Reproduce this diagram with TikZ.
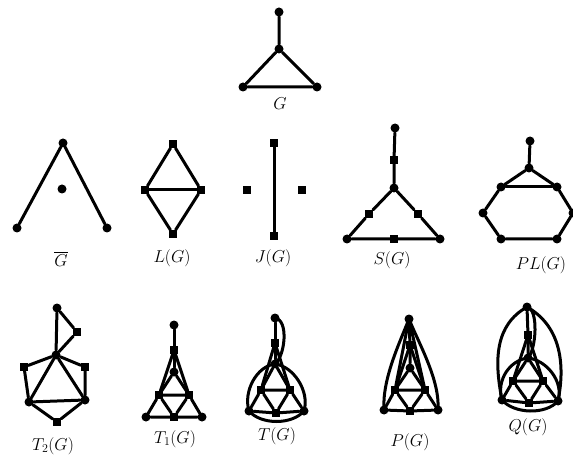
\documentclass[tikz,border=0pt]{standalone}
\usepackage{amsmath}
\usetikzlibrary{positioning}

\begin{document}
\begin{tikzpicture}[
  x=1bp, y=-1bp,
  % -- dot = vertex, square = edge of G --
  vt/.style={circle, fill=black, inner sep=0pt, minimum size=9bp},
  sq/.style={rectangle, fill=black, inner sep=0pt, minimum size=8bp},
  ln/.style={line width=3bp, line cap=round, line join=round},
  lb/.style={font=\fontsize{17}{20}\selectfont},
]
\useasboundingbox (0,0) rectangle (573,456);

% -- G ------------------------------------------------------
\node[vt] (gt) at (279,12) {};
\node[vt] (gc) at (279,49) {};
\node[vt] (gl) at (243,87) {};
\node[vt] (gr) at (317,87) {};
\draw[ln] (gt) -- (gc) -- (gl) -- (gr) -- (gc);
\node[lb] (gn) at (280,104) {$G$};

% -- complement -----------------------------------------------
\node[vt] (ct) at (63,143) {};
\node[vt] (cm) at (62,189) {};
\node[vt] (cl) at (17,228) {};
\node[vt] (cr) at (107,228) {};
\draw[ln] (cl) -- (ct) -- (cr);
\node[lb] (cn) at (61,259) {$\overline{G}$};

% -- L(G) -----------------------------------------------------
\node[sq] (lt) at (173,144) {};
\node[sq] (ll) at (145,190) {};
\node[sq] (lr) at (201,190) {};
\node[sq] (lo) at (173,234) {};
\draw[ln] (lt) -- (ll) -- (lo) -- (lr) -- (lt);
\draw[ln] (ll) -- (lr);
\node[lb] (ln) at (172,258) {$L(G)$};

% -- J(G) -----------------------------------------------------
\node[sq] (jt) at (274,143) {};
\node[sq] (jb) at (274,236) {};
\node[sq] (jl) at (247,190) {};
\node[sq] (jr) at (302,190) {};
\draw[ln] (jt) -- (jb);
\node[lb] (jn) at (273,258) {$J(G)$};

% -- S(G) -----------------------------------------------------
\node[vt] (st) at (395,128) {};
\node[sq] (ss) at (394,160) {};
\node[vt] (sc) at (394,188) {};
\node[sq] (sl) at (369,214) {};
\node[sq] (sr) at (418,214) {};
\node[vt] (sbl) at (347,239) {};
\node[vt] (sbr) at (440,239) {};
\node[sq] (sb) at (394,239) {};
\draw[ln] (st) -- (ss) -- (sc) -- (sl) -- (sbl) -- (sb) -- (sbr) -- (sr) -- (sc);
\node[lb] (sn) at (392,260) {$S(G)$};

% -- PL(G) ----------------------------------------------------
\node[vt] (pt) at (530,141) {};
\node[vt] (pc) at (529,168) {};
\node[vt] (pul) at (501,187) {};
\node[vt] (pur) at (557,187) {};
\node[vt] (pfl) at (483,213) {};
\node[vt] (pfr) at (573,213) {};
\node[vt] (pbl) at (501,239) {};
\node[vt] (pbr) at (557,239) {};
\draw[ln] (pt) -- (pc) -- (pul) -- (pfl) -- (pbl) -- (pbr) -- (pfr) -- (pur) -- (pc);
\draw[ln] (pul) -- (pur);
\node[lb] (pn) at (541,265) {$PL(G)$};

% -- T2(G) ----------------------------------------------------
\node[vt] (at) at (57,308) {};
\node[sq] (as) at (77,332) {};
\node[vt] (ac) at (56,355) {};
\node[sq] (al) at (24,367) {};
\node[sq] (ar) at (85,367) {};
\node[vt] (abl) at (29,402) {};
\node[vt] (abr) at (85,400) {};
\node[sq] (ab) at (57,422) {};
\draw[ln] (at) -- (ac) -- (as) -- (at);
\draw[ln] (ac) -- (al) -- (abl) -- (ab) -- (abr) -- (ar) -- (ac);
\draw[ln] (abl) -- (ac) -- (abr) -- (abl);
\node[lb] (an) at (53,446) {$T_2(G)$};

% -- T1(G) ----------------------------------------------------
\node[vt] (bt) at (174,325) {};
\node[sq] (bs) at (174,350) {};
\node[vt] (bc) at (174,372) {};
\node[sq] (bl) at (159,395) {};
\node[sq] (br) at (189,395) {};
\node[vt] (bbl) at (146,417) {};
\node[vt] (bbr) at (202,417) {};
\node[sq] (bb) at (174,417) {};
\draw[ln] (bt) -- (bs) -- (bc);
\draw[ln] (bl) -- (bs) -- (br);
\draw[ln] (bl) -- (bc) -- (br) -- (bl);
\draw[ln] (bbl) -- (bl) -- (bb) -- (br) -- (bbr) -- (bb) -- (bbl);
\node[lb] (bn) at (175,439) {$T_1(G)$};

% -- T(G) -----------------------------------------------------
\node[vt] (tt) at (275,318) {};
\node[sq] (ts) at (275,343) {};
\node[vt] (tc) at (275,364) {};
\node[sq] (tl) at (261,390) {};
\node[sq] (tr) at (290,390) {};
\node[vt] (tbl) at (249,411) {};
\node[vt] (tbr) at (304,411) {};
\node[sq] (tb) at (276,413) {};
\draw[ln] (tt) -- (ts) -- (tc);
\draw[ln] (tl) -- (ts) -- (tr);
\draw[ln] (tl) -- (tc) -- (tr) -- (tl);
\draw[ln] (tbl) -- (tl) -- (tb) -- (tr) -- (tbr) -- (tb) -- (tbl);
\draw[ln] (tt.center) .. controls +(14,2) and +(10,-8) .. (tc.center);
\draw[ln] (tc.center) .. controls +(-18,2) and +(-6,-20) .. (tbl.center);
\draw[ln] (tc.center) .. controls +(18,2) and +(6,-20) .. (tbr.center);
\draw[ln] (tbl.center) .. controls +(12,14) and +(-12,14) .. (tbr.center);
\node[lb] (tn) at (277,436) {$T(G)$};

% -- P(G) -----------------------------------------------------
\node[vt] (qt) at (409,319) {};
\node[sq] (qs) at (410,345) {};
\node[vt] (qc) at (410,368) {};
\node[sq] (ql) at (395,390) {};
\node[sq] (qr) at (425,390) {};
\node[vt] (qbl) at (384,410) {};
\node[vt] (qbr) at (438,410) {};
\node[sq] (qb) at (410,411) {};
\draw[ln] (qt) -- (qs) -- (qc);
\draw[ln] (ql) -- (qs) -- (qr);
\draw[ln] (ql) -- (qt) -- (qr);
\draw[ln] (ql) -- (qc) -- (qr) -- (ql);
\draw[ln] (qbl) -- (ql) -- (qb) -- (qr) -- (qbr) -- (qb) -- (qbl);
\draw[ln] (qt.center) .. controls +(-10,25) and +(-2,-30) .. (qbl.center);
\draw[ln] (qt.center) .. controls +(10,25) and +(2,-30) .. (qbr.center);
\node[lb] (qn) at (410,442) {$P(G)$};

% -- Q(G) -----------------------------------------------------
\node[vt] (rt) at (527,307) {};
\node[sq] (rs) at (528,335) {};
\node[vt] (rc) at (528,358) {};
\node[sq] (rl) at (513,381) {};
\node[sq] (rr) at (543,381) {};
\node[vt] (rbl) at (502,400) {};
\node[vt] (rbr) at (558,401) {};
\node[sq] (rb) at (529,403) {};
\draw[ln] (rt) -- (rs) -- (rc);
\draw[ln] (rl) -- (rs) -- (rr);
\draw[ln] (rl) -- (rc) -- (rr) -- (rl);
\draw[ln] (rbl) -- (rl) -- (rb) -- (rr) -- (rbr) -- (rb) -- (rbl);
\draw[ln] (rt.center) .. controls +(12,2) and +(8,-8) .. (rc.center);
\draw[ln] (rc.center) .. controls +(-18,2) and +(-6,-20) .. (rbl.center);
\draw[ln] (rc.center) .. controls +(18,2) and +(6,-20) .. (rbr.center);
\draw[ln] (rbl.center) .. controls +(12,14) and +(-12,14) .. (rbr.center);
\draw[ln] (rt.center) .. controls +(-32,18) and +(-8,-40) .. (rbl.center);
\draw[ln] (rt.center) .. controls +(32,18) and +(8,-40) .. (rbr.center);
\node[lb] (rn) at (528,427) {$Q(G)$};
\end{tikzpicture}
\end{document}
